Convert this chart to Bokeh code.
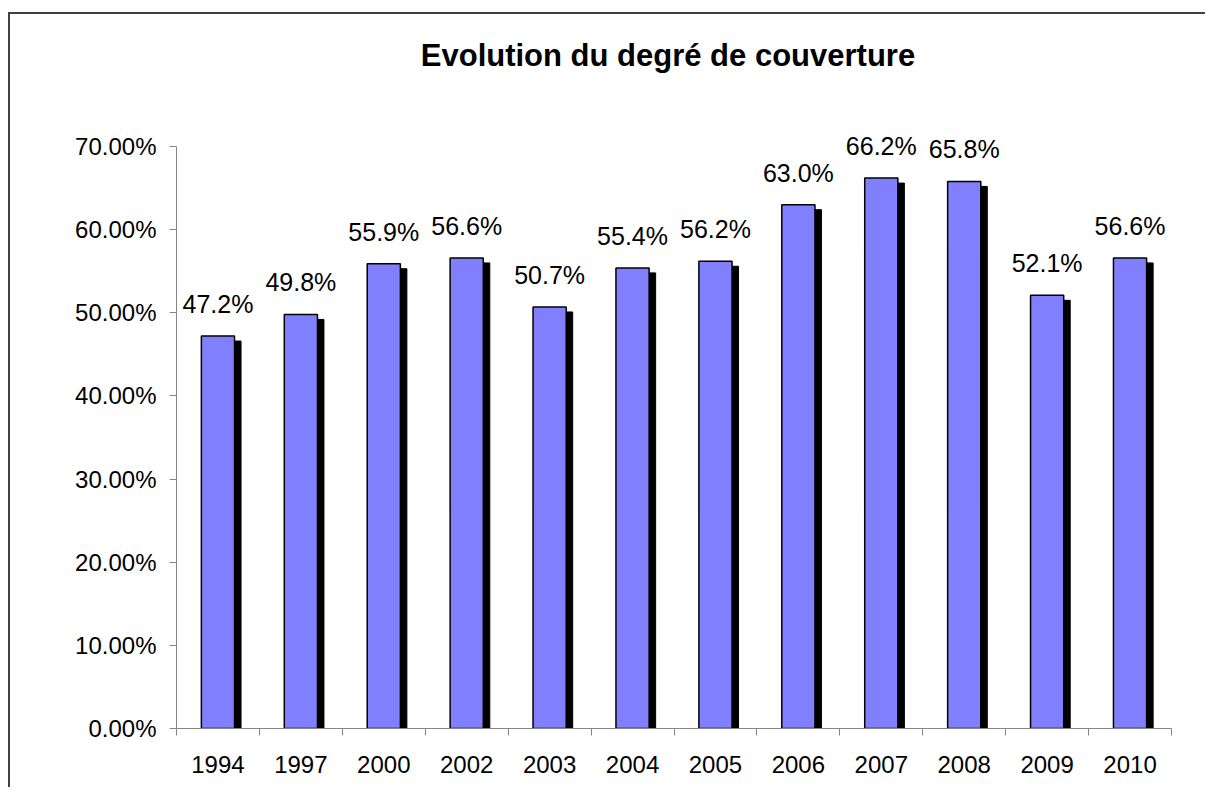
from bokeh.plotting import figure
from bokeh.models import Range1d, FixedTicker, NumeralTickFormatter, Label, ColumnDataSource
from bokeh.core.properties import value
from bokeh.embed import file_html
from bokeh.resources import INLINE

years = ["1994", "1997", "2000", "2002", "2003", "2004", "2005", "2006", "2007", "2008", "2009", "2010"]
coverage = [0.472, 0.498, 0.559, 0.566, 0.507, 0.554, 0.562, 0.630, 0.662, 0.658, 0.521, 0.566]
value_labels = ["47.2%", "49.8%", "55.9%", "56.6%", "50.7%", "55.4%", "56.2%", "63.0%", "66.2%", "65.8%", "52.1%", "56.6%"]
y_ticks = [0.0, 0.1, 0.2, 0.3, 0.4, 0.5, 0.6, 0.7]
title_text = "Evolution du degré de couverture"

FONT = "Liberation Sans"
n = len(years)
centers = [i + 0.5 for i in range(n)]
bounds = [float(i) for i in range(n + 1)]

# geometry: 0..70% spans 582 px; frame extended upward to hold the title
axis_h = 582
frame_w = 995
frame_h = 708
px_x = n / frame_w
px_y = 0.7 / axis_h
y_top = frame_h * px_y
shadow_dx = 6.5 * px_x
shadow_dy = 5 * px_y

src = ColumnDataSource(dict(
    x=centers,
    top=coverage,
    sx=[c + shadow_dx for c in centers],
    stop=[v - shadow_dy for v in coverage],
    lab=value_labels,
))

p = figure(width=1197, height=775, output_backend="svg", toolbar_location=None,
           x_range=Range1d(0, n), y_range=Range1d(0, y_top),
           min_border_left=166, min_border_right=36, min_border_top=6, min_border_bottom=61)
p.styles = {"border-left": "2px solid #404040", "border-top": "2px solid #404040",
            "margin-top": "12px", "margin-left": "8px"}
p.outline_line_color = None
p.xgrid.grid_line_color = None
p.ygrid.grid_line_color = None
p.background_fill_color = "white"
p.border_fill_color = "white"

# shadows
p.vbar(x="sx", top="stop", bottom=0, width=0.4, source=src, fill_color="black", line_color="black")
# bars
p.vbar(x="x", top="top", bottom=0, width=0.4, source=src, fill_color="#8080FF",
       line_color="black", line_width=1.5)

# data labels
p.text(x="x", y="top", text="lab", source=src, text_align="center", text_baseline="alphabetic",
       y_offset=-32, text_font=value(FONT), text_font_size="25px", text_color="black")

# title
p.add_layout(Label(x=5.927, y=0.7 + 91 * px_y, text=title_text, text_align="center",
                   text_baseline="alphabetic", text_font=FONT, text_font_size="31px",
                   text_font_style="bold", text_color="black"))

axis_gray = "#868686"

xa = p.xaxis[0]
xa.ticker = FixedTicker(ticks=centers, minor_ticks=bounds)
xa.major_label_overrides = {c: y for c, y in zip(centers, years)}
xa.major_tick_line_color = None
xa.minor_tick_line_color = axis_gray
xa.minor_tick_in = 0
xa.minor_tick_out = 7
xa.axis_line_color = axis_gray
xa.major_label_text_font = FONT
xa.major_label_text_font_size = "24px"
xa.major_label_text_color = "black"
xa.major_label_standoff = 20

ya = p.yaxis[0]
ya.ticker = FixedTicker(ticks=y_ticks)
ya.formatter = NumeralTickFormatter(format="0.00%")
ya.bounds = (0, 0.7)
ya.major_tick_line_color = axis_gray
ya.major_tick_in = 0
ya.major_tick_out = 7
ya.minor_tick_line_color = None
ya.axis_line_color = axis_gray
ya.major_label_text_font = FONT
ya.major_label_text_font_size = "24px"
ya.major_label_text_color = "black"
ya.major_label_standoff = 13

open("out.html", "w").write(file_html(p, INLINE))
